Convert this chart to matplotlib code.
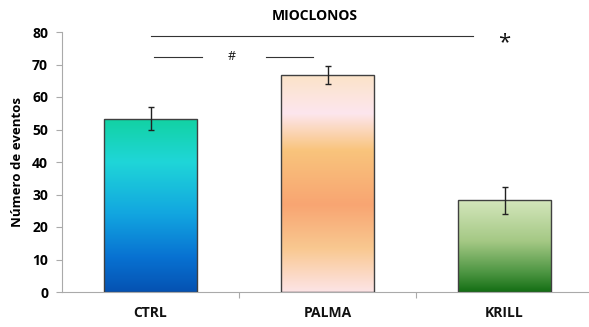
import numpy as np
import matplotlib.pyplot as plt
from matplotlib.colors import LinearSegmentedColormap

# data
groups = ["CTRL", "PALMA", "KRILL"]
means = [53.3, 66.8, 28.2]
errors = [3.5, 2.7, 4.2]

# gradient stops, top (0) -> bottom (1)
gradients = [
    [(0.0, "#12d2a2"), (0.25, "#1fd6d8"), (0.55, "#12a6e0"), (0.8, "#0872d2"), (1.0, "#0552b2")],
    [(0.0, "#fbe3c8"), (0.18, "#fde6ee"), (0.35, "#f9c47c"), (0.6, "#f8a572"), (0.8, "#f9c890"), (1.0, "#fde4e6")],
    [(0.0, "#d4e6bc"), (0.45, "#a4c884"), (0.8, "#4a9440"), (1.0, "#146e14")],
]

plt.rcParams['font.family'] = ['Open Sans', 'DejaVu Sans']

fig = plt.figure(figsize=(5.89, 3.27), dpi=100)
ax = fig.add_axes([62 / 589, 35 / 327, 531 / 589, 260 / 327])

x = np.arange(len(groups))
width = 0.53
bars = ax.bar(x, means, width, color="none", edgecolor="#404040", linewidth=1.0, zorder=3)

for bar, stops in zip(bars, gradients):
    cmap = LinearSegmentedColormap.from_list("g", stops)
    bx, by = bar.get_x(), bar.get_y()
    bw, bh = bar.get_width(), bar.get_height()
    grad = np.linspace(0, 1, 256).reshape(-1, 1)
    im = ax.imshow(grad, cmap=cmap, aspect="auto", extent=[bx, bx + bw, by, by + bh],
                   origin="upper", zorder=2, interpolation="bicubic")
    im.set_clip_path(bar)

ax.errorbar(x, means, yerr=errors, fmt="none", ecolor="#222222", elinewidth=1.0,
            capsize=2, capthick=1.0, zorder=4)

ax.set_xlim(-0.5, 2.5)
ax.set_ylim(0, 80)
ax.set_yticks(range(0, 81, 10))
ax.tick_params(axis="y", labelsize=10, length=4, color="#aaaaaa", pad=6)
for lbl in ax.get_yticklabels():
    lbl.set_fontweight("bold")

ax.set_xticks([0.5, 1.5])
ax.set_xticklabels([])
ax.tick_params(axis="x", length=4, color="#aaaaaa")
for i, g in enumerate(groups):
    ax.text(i, -6.5, g, ha="center", va="center", fontsize=10, fontweight="bold", color="#111111")

ax.set_ylabel("Número de eventos", fontsize=9.5, fontweight="bold", labelpad=6)

for side in ["top", "right"]:
    ax.spines[side].set_visible(False)
ax.spines["left"].set_color("#aaaaaa")
ax.spines["bottom"].set_color("#aaaaaa")
ax.spines["bottom"].set_bounds(-0.5, 2.6)

# significance annotations
ax.text(0.93, 85, "MIOCLONOS", ha="center", va="center", fontsize=10, fontweight="bold",
        clip_on=False)
ax.plot([0.0, 1.82], [78.8, 78.8], color="#333333", lw=0.8, clip_on=False)
ax.text(2.0, 76.8, "*", ha="center", va="center", fontsize=16, color="#111111")
ax.plot([0.02, 0.29], [72.3, 72.3], color="#333333", lw=0.8)
ax.plot([0.65, 0.92], [72.3, 72.3], color="#333333", lw=0.8)
ax.text(0.46, 72.5, "#", ha="center", va="center", fontsize=9, color="#111111")

fig.savefig("out.png", dpi=100)
